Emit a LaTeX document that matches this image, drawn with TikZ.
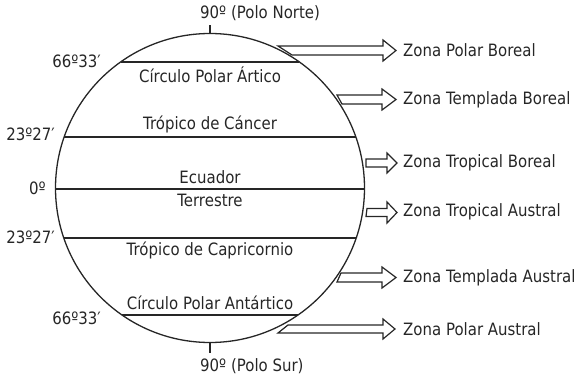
\documentclass[tikz,border=0pt]{standalone}
\usepackage{fontspec}
\setmainfont{DejaVu Sans}[FakeStretch=0.88]
\begin{document}
\begin{tikzpicture}[x=1pt,y=-1pt,
  lbl/.style={inner sep=0pt, font=\fontsize{17}{20}\selectfont, text=black!85},
  ln/.style={line width=1.6pt, black!85},
  harrow/.style={line width=1.2pt, black!85, line join=miter}]
\useasboundingbox (0,0) rectangle (580,379);
\coordinate (c) at (210,188);
\draw[line width=1.3pt, black!85] (c) circle (154.5);
% latitude lines
\coordinate (a1) at (120.6,62); \coordinate (a2) at (299.4,62);
\coordinate (b1) at (64.2,137); \coordinate (b2) at (355.8,137);
\coordinate (e1) at (55.5,189); \coordinate (e2) at (364.5,189);
\coordinate (d1) at (63.8,238); \coordinate (d2) at (356.2,238);
\coordinate (f1) at (122,315); \coordinate (f2) at (298,315);
\draw[ln] (a1) -- (a2);
\draw[ln] (b1) -- (b2);
\draw[ln] (e1) -- (e2);
\draw[ln] (d1) -- (d2);
\draw[ln] (f1) -- (f2);
% pole ticks
\coordinate (np) at (210,33.5); \coordinate (npt) at (210,25);
\coordinate (sp) at (210,342.5); \coordinate (spt) at (210,353);
\draw[line width=1.2pt, black!85] (np) -- (npt);
\draw[line width=1.2pt, black!85] (sp) -- (spt);
% labels
\node[lbl, anchor=west] (pn) at (200,13) {90º (Polo Norte)};
\node[lbl, anchor=west] (ps) at (200,366) {90º (Polo Sur)};
\node[lbl, anchor=east] (l1) at (101,61) {66º33′};
\node[lbl, anchor=east] (l2) at (55,134) {23º27′};
\node[lbl, anchor=east] (l3) at (46,188) {0º};
\node[lbl, anchor=east] (l4) at (55,237) {23º27′};
\node[lbl, anchor=east] (l5) at (101,318) {66º33′};
\node[lbl] (t1) at (210,75) {Círculo Polar Ártico};
\node[lbl] (t2) at (210,124) {Trópico de Cáncer};
\node[lbl] (t3) at (210,177) {Ecuador};
\node[lbl] (t4) at (210,200) {Terrestre};
\node[lbl] (t5) at (210,250) {Trópico de Capricornio};
\node[lbl] (t6) at (210,303) {Círculo Polar Antártico};
% hollow arrows
\draw[harrow] (278,46) -- (383,46) -- (383,40) -- (396,50.5) -- (383,61) -- (383,55) -- (292,55) -- cycle;
\draw[harrow] (337,95) -- (382,95) -- (382,89) -- (396,99.5) -- (382,110) -- (382,104) -- (342,104) -- cycle;
\draw[harrow] (366,159) -- (387,159) -- (387,153) -- (397,163) -- (387,173) -- (387,167) -- (366,167) -- cycle;
\draw[harrow] (367,208.5) -- (387,208.5) -- (387,202) -- (397,212.5) -- (387,223) -- (387,216.5) -- (366,216.5) -- cycle;
\draw[harrow] (341,273) -- (382,273) -- (382,267) -- (396,277.5) -- (382,288) -- (382,282) -- (337,282) -- cycle;
\draw[harrow] (288,325) -- (383,325) -- (383,319) -- (395,329) -- (383,339) -- (383,333) -- (278,333) -- cycle;
\node[lbl, anchor=west] (z1) at (403,50) {Zona Polar Boreal};
\node[lbl, anchor=west] (z2) at (403,100) {Zona Templada Boreal};
\node[lbl, anchor=west] (z3) at (403,163) {Zona Tropical Boreal};
\node[lbl, anchor=west] (z4) at (403,212) {Zona Tropical Austral};
\node[lbl, anchor=west] (z5) at (403,278) {Zona Templada Austral};
\node[lbl, anchor=west] (z6) at (403,329) {Zona Polar Austral};
\end{tikzpicture}
\end{document}
